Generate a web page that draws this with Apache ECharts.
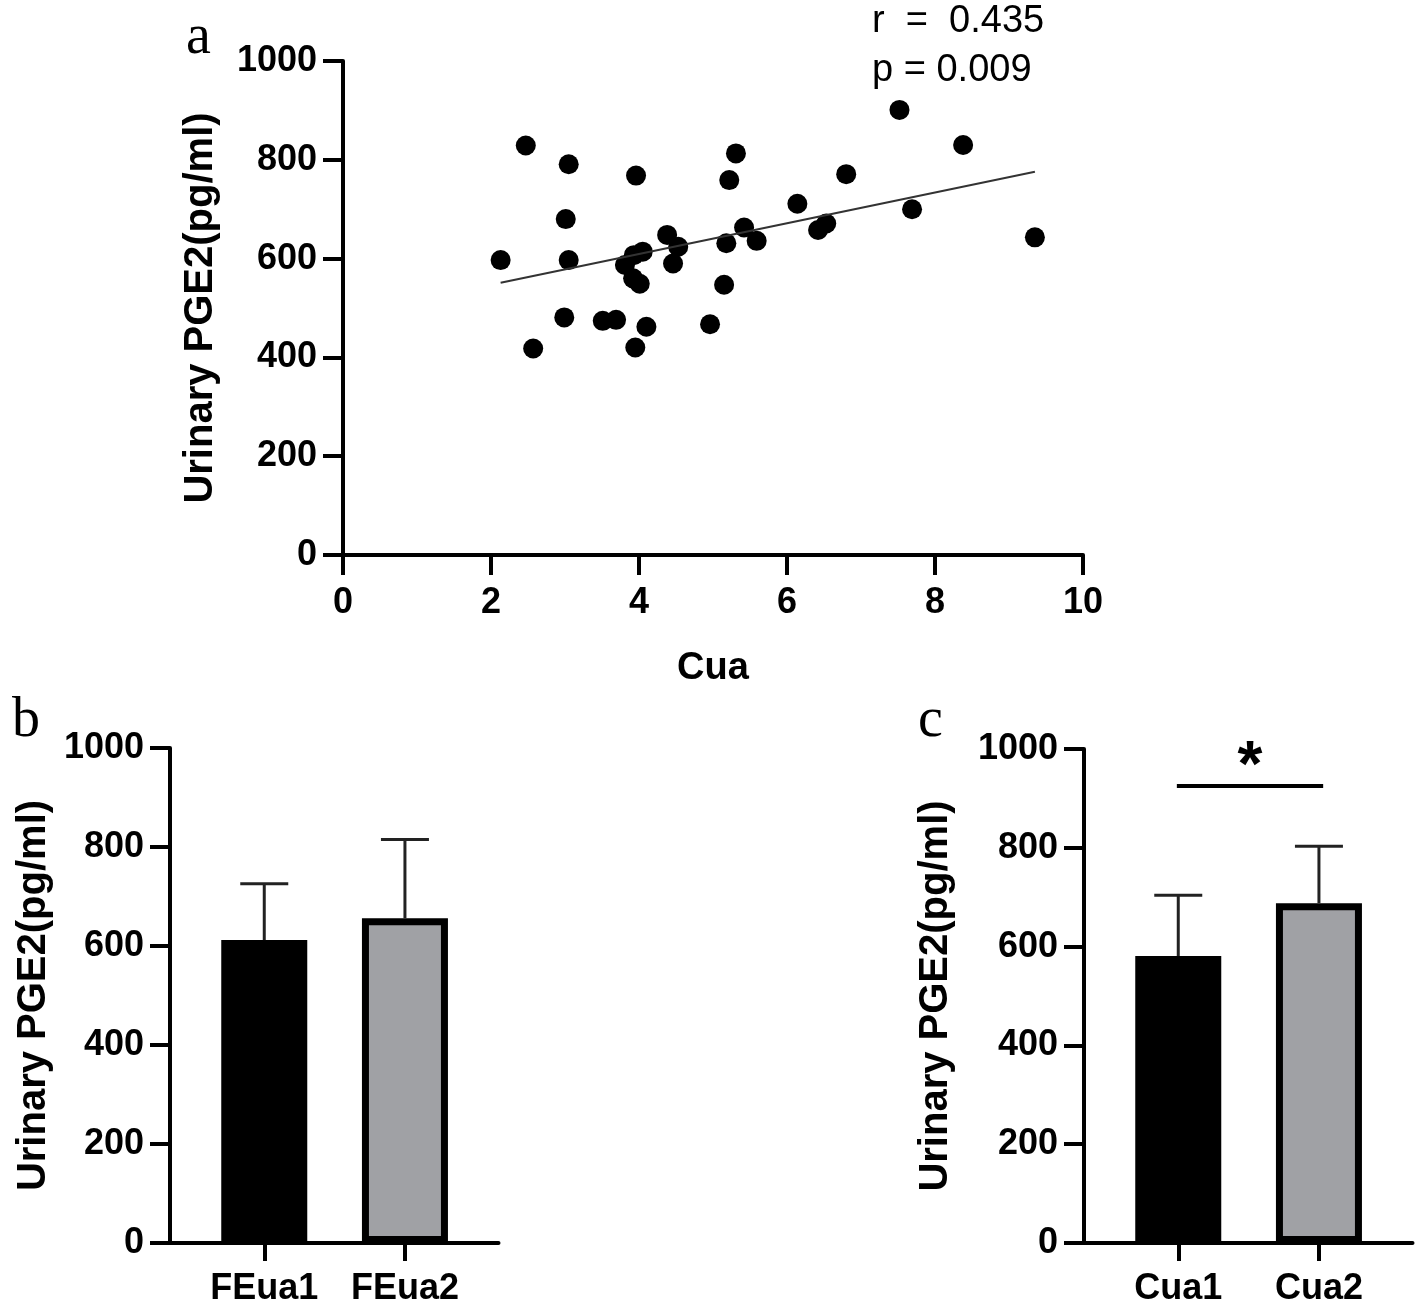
<!DOCTYPE html>
<html><head><meta charset="utf-8">
<script src="https://cdn.jsdelivr.net/npm/echarts@6/dist/echarts.min.js"></script>
<style>html,body{margin:0;padding:0;background:#fff}#c{width:1416px;height:1307px}</style>
</head><body><div id="c"></div>
<script>
// ---- data ----
const scatterCua  = [2.13,2.47,2.57,3.05,3.01,3.05,2.99,3.51,3.69,3.96,3.81,3.93,4.05,3.92,4.01,3.95,4.10,4.38,4.53,4.46,4.96,5.15,5.18,5.22,5.31,5.42,5.59,6.14,6.42,6.53,6.80,7.52,7.69,8.38,9.35];
const scatterPGE2 = [597,829,418,791,680,597,481,474,476,768,587,607,614,560,549,420,462,648,624,590,467,547,631,759,813,663,636,711,658,671,771,901,700,830,643];
const fitLineCua  = [2.13, 9.35];
const fitLinePGE2 = [551, 776];
const statsLines  = ['r  =  0.435', 'p = 0.009'];

const feCategories = ['FEua1', 'FEua2'];
const feMeans = [612, 656];
const feSD    = [114, 159];

const cuaCategories = ['Cua1', 'Cua2'];
const cuaMeans = [581, 688];
const cuaSD    = [123, 115];
const sigSpan  = [0.99, 2.03];
const sigValue = 925;
const sigMark  = '*';

const yTickMin = 0, yTickMax = 1000, yTickStep = 200;
const xTickMin = 0, xTickMax = 10, xTickStep = 2;
const panelLetters = ['a', 'b', 'c'];
const yName = 'Urinary PGE2(pg/ml)';
const xNameA = 'Cua';

// ---- styling ----
const F = "'Liberation Sans', Arial, Helvetica, sans-serif";
const SERIF = "'Liberation Serif', 'Times New Roman', serif";
const barFill = ['#000000', '#a0a1a5'];
const TICK_FS = 36;

function yAxisCfg(gridIndex, nameGap) {
  return {
    gridIndex, type: 'value', min: yTickMin, max: yTickMax, interval: yTickStep,
    name: yName, nameLocation: 'middle', nameGap, nameRotate: 90,
    nameTextStyle: { fontFamily: F, fontWeight: 'bold', fontSize: 40, color: '#000' },
    axisLine: { show: true, lineStyle: { color: '#000', width: 4 } },
    axisTick: { show: true, length: 20, lineStyle: { color: '#000', width: 4 } },
    axisLabel: { formatter: v => String(v), fontFamily: F, fontWeight: 'bold', fontSize: TICK_FS, color: '#000', margin: 26 },
    splitLine: { show: false }
  };
}
function catAxisCfg(gridIndex, cats) {
  return {
    gridIndex, type: 'value', min: 0.33, max: 2.665,
    axisLine: { show: true, onZero: false, lineStyle: { color: '#000', width: 4 } },
    axisTick: { show: true, length: 18, customValues: [1, 2], lineStyle: { color: '#000', width: 4 } },
    axisLabel: { customValues: [1, 2], formatter: v => cats[Math.round(v) - 1] || '',
      fontFamily: F, fontWeight: 'bold', fontSize: TICK_FS, color: '#000', margin: 28 },
    splitLine: { show: false }
  };
}
function barSeries(idx, means) {
  return {
    type: 'bar', xAxisIndex: idx, yAxisIndex: idx, barWidth: 86, z: 2,
    data: means.map((m, i) => ({ value: [i + 1, m],
      itemStyle: { color: barFill[i], borderColor: '#000', borderWidth: 7 } }))
  };
}
function errSeries(idx, means, sds) {
  return {
    type: 'custom', xAxisIndex: idx, yAxisIndex: idx, z: 3,
    encode: { x: 0, y: [1, 2] },
    data: means.map((m, i) => [i + 1, m, m + sds[i]]),
    renderItem(params, api) {
      const x = api.value(0);
      const lo = api.coord([x, api.value(1)]);
      const hi = api.coord([x, api.value(2)]);
      const half = 24;
      return { type: 'group', children: [
        { type: 'line', shape: { x1: lo[0], y1: lo[1], x2: hi[0], y2: hi[1] }, style: { stroke: '#222', lineWidth: 3 } },
        { type: 'line', shape: { x1: hi[0] - half, y1: hi[1], x2: hi[0] + half, y2: hi[1] }, style: { stroke: '#222', lineWidth: 3 } }
      ]};
    }
  };
}

const chart = echarts.init(document.getElementById('c'), null, { renderer: 'canvas' });
chart.setOption({
  backgroundColor: '#fff',
  animation: false,
  grid: [
    { left: 343, top: 61, width: 740, height: 494 },
    { left: 170, top: 748, width: 328.5, height: 495 },
    { left: 1084, top: 749, width: 328.5, height: 494 }
  ],
  xAxis: [
    {
      gridIndex: 0, type: 'value', min: xTickMin, max: xTickMax, interval: xTickStep,
      name: xNameA, nameLocation: 'middle', nameGap: 95,
      nameTextStyle: { fontFamily: F, fontWeight: 'bold', fontSize: 38, color: '#000' },
      axisLine: { show: true, lineStyle: { color: '#000', width: 4 } },
      axisTick: { show: true, length: 20, lineStyle: { color: '#000', width: 4 } },
      axisLabel: { fontFamily: F, fontWeight: 'bold', fontSize: TICK_FS, color: '#000', margin: 30 },
      splitLine: { show: false }
    },
    catAxisCfg(1, feCategories),
    catAxisCfg(2, cuaCategories)
  ],
  yAxis: [ yAxisCfg(0, 122), yAxisCfg(1, 116), yAxisCfg(2, 128) ],
  series: [
    {
      type: 'scatter', xAxisIndex: 0, yAxisIndex: 0, symbol: 'circle', symbolSize: 20,
      itemStyle: { color: '#000', opacity: 1 },
      data: scatterCua.map((x, i) => [x, scatterPGE2[i]])
    },
    {
      type: 'line', xAxisIndex: 0, yAxisIndex: 0, symbol: 'none',
      lineStyle: { color: '#333', width: 2 },
      data: fitLineCua.map((x, i) => [x, fitLinePGE2[i]])
    },
    barSeries(1, feMeans), errSeries(1, feMeans, feSD),
    barSeries(2, cuaMeans), errSeries(2, cuaMeans, cuaSD),
    {
      type: 'custom', xAxisIndex: 2, yAxisIndex: 2, z: 4,
      data: [[sigSpan[0], sigSpan[1], sigValue]],
      renderItem(params, api) {
        const a = api.coord([api.value(0), api.value(2)]);
        const b = api.coord([api.value(1), api.value(2)]);
        return { type: 'group', children: [
          { type: 'line', shape: { x1: a[0], y1: a[1], x2: b[0], y2: b[1] }, style: { stroke: '#000', lineWidth: 4 } },
          { type: 'text', style: { text: sigMark, x: (a[0] + b[0]) / 2, y: a[1] - 18,
            textAlign: 'center', textVerticalAlign: 'middle', fill: '#000',
            font: 'bold 64px ' + F } }
        ]};
      }
    }
  ],
  graphic: [
    { type: 'text', left: 872, top: 3, style: { text: statsLines[0], font: '38px ' + F, fill: '#000' } },
    { type: 'text', left: 872, top: 52, style: { text: statsLines[1], font: '38px ' + F, fill: '#000' } },
    { type: 'text', left: 186, top: 10, style: { text: panelLetters[0], font: '56px ' + SERIF, fill: '#000' } },
    { type: 'text', left: 12, top: 693, style: { text: panelLetters[1], font: '56px ' + SERIF, fill: '#000' } },
    { type: 'text', left: 918, top: 693, style: { text: panelLetters[2], font: '56px ' + SERIF, fill: '#000' } }
  ]
});
</script>
</body></html>
